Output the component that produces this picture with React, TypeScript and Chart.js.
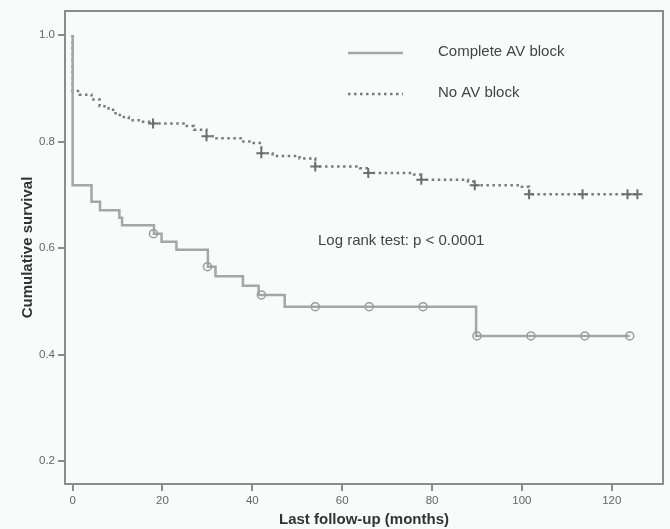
import React, { useEffect, useRef } from "react";
import { Chart, registerables } from "chart.js";

Chart.register(...registerables);

// ---- data ----
const xTicks = [0, 20, 40, 60, 80, 100, 120];
const yTicks = [0.2, 0.4, 0.6, 0.8, 1.0];
const seriesLabels = ["Complete AV block", "No AV block"];
const annotationText = "Log rank test: p < 0.0001";
const xTitle = "Last follow-up (months)";
const yTitle = "Cumulative survival";

// Complete AV block (step curve)
const completeTimes = [0, 0, 4.2, 6.1, 10.4, 11, 18.1, 19.8, 23.1, 30.1, 31.8, 37.9, 41.4, 47.2, 89.8, 124];
const completeSurv = [1.0, 0.718, 0.687, 0.671, 0.657, 0.643, 0.627, 0.612, 0.597, 0.565, 0.547, 0.529, 0.512, 0.49, 0.435, 0.435];
const completeCensorTimes = [18, 30, 42, 54, 66, 78, 90, 102, 114, 124];
const completeCensorSurv = [0.627, 0.565, 0.512, 0.49, 0.49, 0.49, 0.435, 0.435, 0.435, 0.435];

// No AV block (step curve)
const noBlockTimes = [0, 0, 1.6, 4.2, 6, 8, 9, 10.5, 12.5, 15, 17.9, 25, 27, 29.8, 32, 38, 40, 42, 44.5, 50.5, 54, 64, 65.8, 76, 77.6, 88, 89.5, 100, 101.6, 126];
const noBlockSurv = [1.0, 0.895, 0.888, 0.879, 0.866, 0.862, 0.853, 0.846, 0.84, 0.837, 0.834, 0.829, 0.822, 0.81, 0.806, 0.8, 0.797, 0.778, 0.773, 0.768, 0.753, 0.75, 0.741, 0.738, 0.728, 0.725, 0.718, 0.715, 0.701, 0.701];
const noBlockCensorTimes = [17.9, 29.8, 42, 54, 65.8, 77.6, 89.5, 101.6, 113.5, 123.5, 125.7];
const noBlockCensorSurv = [0.834, 0.81, 0.778, 0.753, 0.741, 0.728, 0.718, 0.701, 0.701, 0.701, 0.701];

const xRange = [-1.7, 131.4];
const yRange = [0.157, 1.045];

const zip = (xs: number[], ys: number[]) => xs.map((x, i) => ({ x, y: ys[i] }));

export default function App() {
  const ref = useRef<HTMLCanvasElement>(null);

  useEffect(() => {
    if (!ref.current) return;
    const BG = "#f9fafa";
    const solidColor = "#a6a6a6";
    const dotColor = "#7a7a7a";
    const frameColor = "#8c8c8c";

    const bgPlugin = {
      id: "bg",
      beforeDraw(chart: any) {
        const { ctx, width, height } = chart;
        ctx.save();
        ctx.fillStyle = BG;
        ctx.fillRect(0, 0, width, height);
        ctx.restore();
      },
    };

    const framePlugin = {
      id: "frame",
      afterDraw(chart: any) {
        const { ctx, chartArea: a } = chart;
        ctx.save();
        ctx.strokeStyle = frameColor;
        ctx.lineWidth = 2;
        ctx.strokeRect(a.left, a.top, a.right - a.left, a.bottom - a.top);
        ctx.restore();
      },
    };

    const legendPlugin = {
      id: "innerLegend",
      afterDatasetsDraw(chart: any) {
        const { ctx } = chart;
        const ds = chart.data.datasets;
        const rows = [
          { d: ds[0], y: 53, text: seriesLabels[0] },
          { d: ds[1], y: 94, text: seriesLabels[1] },
        ];
        ctx.save();
        rows.forEach((r) => {
          ctx.beginPath();
          ctx.strokeStyle = r.d.borderColor;
          ctx.lineWidth = r.d.borderWidth;
          ctx.setLineDash(r.d.borderDash || []);
          ctx.moveTo(348, r.y);
          ctx.lineTo(403, r.y);
          ctx.stroke();
          ctx.setLineDash([]);
          ctx.fillStyle = "#444";
          ctx.font = "15px 'Liberation Sans', Arial, sans-serif";
          ctx.textBaseline = "middle";
          ctx.textAlign = "left";
          ctx.fillText(r.text, 438, r.y - 1);
        });
        ctx.fillText(annotationText, 318, 241);
        ctx.restore();
      },
    };

    const tickFont = { family: "'Liberation Sans Narrow', 'Liberation Sans', Arial, sans-serif", size: 11.5 };
    const titleFont = { family: "'Liberation Sans', Arial, sans-serif", size: 15, weight: "bold" };

    const chart = new Chart(ref.current, {
      type: "line",
      data: {
        datasets: [
          {
            label: seriesLabels[0],
            data: zip(completeTimes, completeSurv),
            stepped: "before",
            borderColor: solidColor,
            borderWidth: 2.5,
            pointRadius: 0,
            fill: false,
            order: 2,
          },
          {
            label: seriesLabels[1],
            data: zip(noBlockTimes, noBlockSurv),
            stepped: "before",
            borderColor: dotColor,
            borderWidth: 2.5,
            borderDash: [2.5, 3.5],
            borderCapStyle: "butt",
            pointRadius: 0,
            fill: false,
            order: 2,
          },
          {
            label: "Complete censored",
            data: zip(completeCensorTimes, completeCensorSurv),
            showLine: false,
            pointStyle: "circle",
            pointRadius: 4,
            pointBackgroundColor: "rgba(0,0,0,0)",
            pointBorderColor: "#9c9c9c",
            pointBorderWidth: 1.5,
            order: 1,
          },
          {
            label: "No block censored",
            data: zip(noBlockCensorTimes, noBlockCensorSurv),
            showLine: false,
            pointStyle: "cross",
            pointRadius: 5,
            pointBorderColor: "#6e6e6e",
            pointBorderWidth: 2,
            order: 1,
          },
        ],
      } as any,
      options: {
        animation: false,
        responsive: false,
        devicePixelRatio: 1,
        layout: { padding: { top: 11, right: 6, left: 0, bottom: 0 } },
        plugins: { legend: { display: false }, tooltip: { enabled: false } },
        scales: {
          x: {
            type: "linear",
            min: xRange[0],
            max: xRange[1],
            afterBuildTicks: (s: any) => {
              s.ticks = xTicks.map((v) => ({ value: v }));
            },
            afterFit: (s: any) => {
              s.height = 45;
            },
            grid: {
              drawOnChartArea: false,
              drawTicks: true,
              tickLength: 7,
              color: frameColor,
              lineWidth: 2,
            },
            border: { display: true, color: frameColor, width: 2 },
            ticks: {
              padding: 3,
              color: "#666",
              font: tickFont,
              callback: (v: any) => String(v),
            },
            title: {
              display: true,
              text: xTitle,
              color: "#333",
              font: titleFont,
              padding: { top: 0, bottom: 0 },
            },
          },
          y: {
            type: "linear",
            min: yRange[0],
            max: yRange[1],
            afterBuildTicks: (s: any) => {
              s.ticks = yTicks.map((v) => ({ value: v }));
            },
            afterFit: (s: any) => {
              s.width = 65;
            },
            grid: {
              drawOnChartArea: false,
              drawTicks: true,
              tickLength: 7,
              color: frameColor,
              lineWidth: 2,
            },
            border: { display: true, color: frameColor, width: 2 },
            ticks: {
              padding: 3,
              color: "#666",
              font: tickFont,
              callback: (v: any) => Number(v).toFixed(1),
            },
            title: {
              display: true,
              text: yTitle,
              color: "#333",
              font: titleFont,
              padding: { top: 19, bottom: 0 },
            },
          },
        },
      } as any,
      plugins: [bgPlugin, framePlugin, legendPlugin],
    });

    return () => chart.destroy();
  }, []);

  return (
    <div style={{ position: "fixed", left: 0, top: 0, width: 670, height: 529 }}>
      <canvas ref={ref} width={670} height={529} style={{ display: "block", width: 670, height: 529 }} />
    </div>
  );
}
